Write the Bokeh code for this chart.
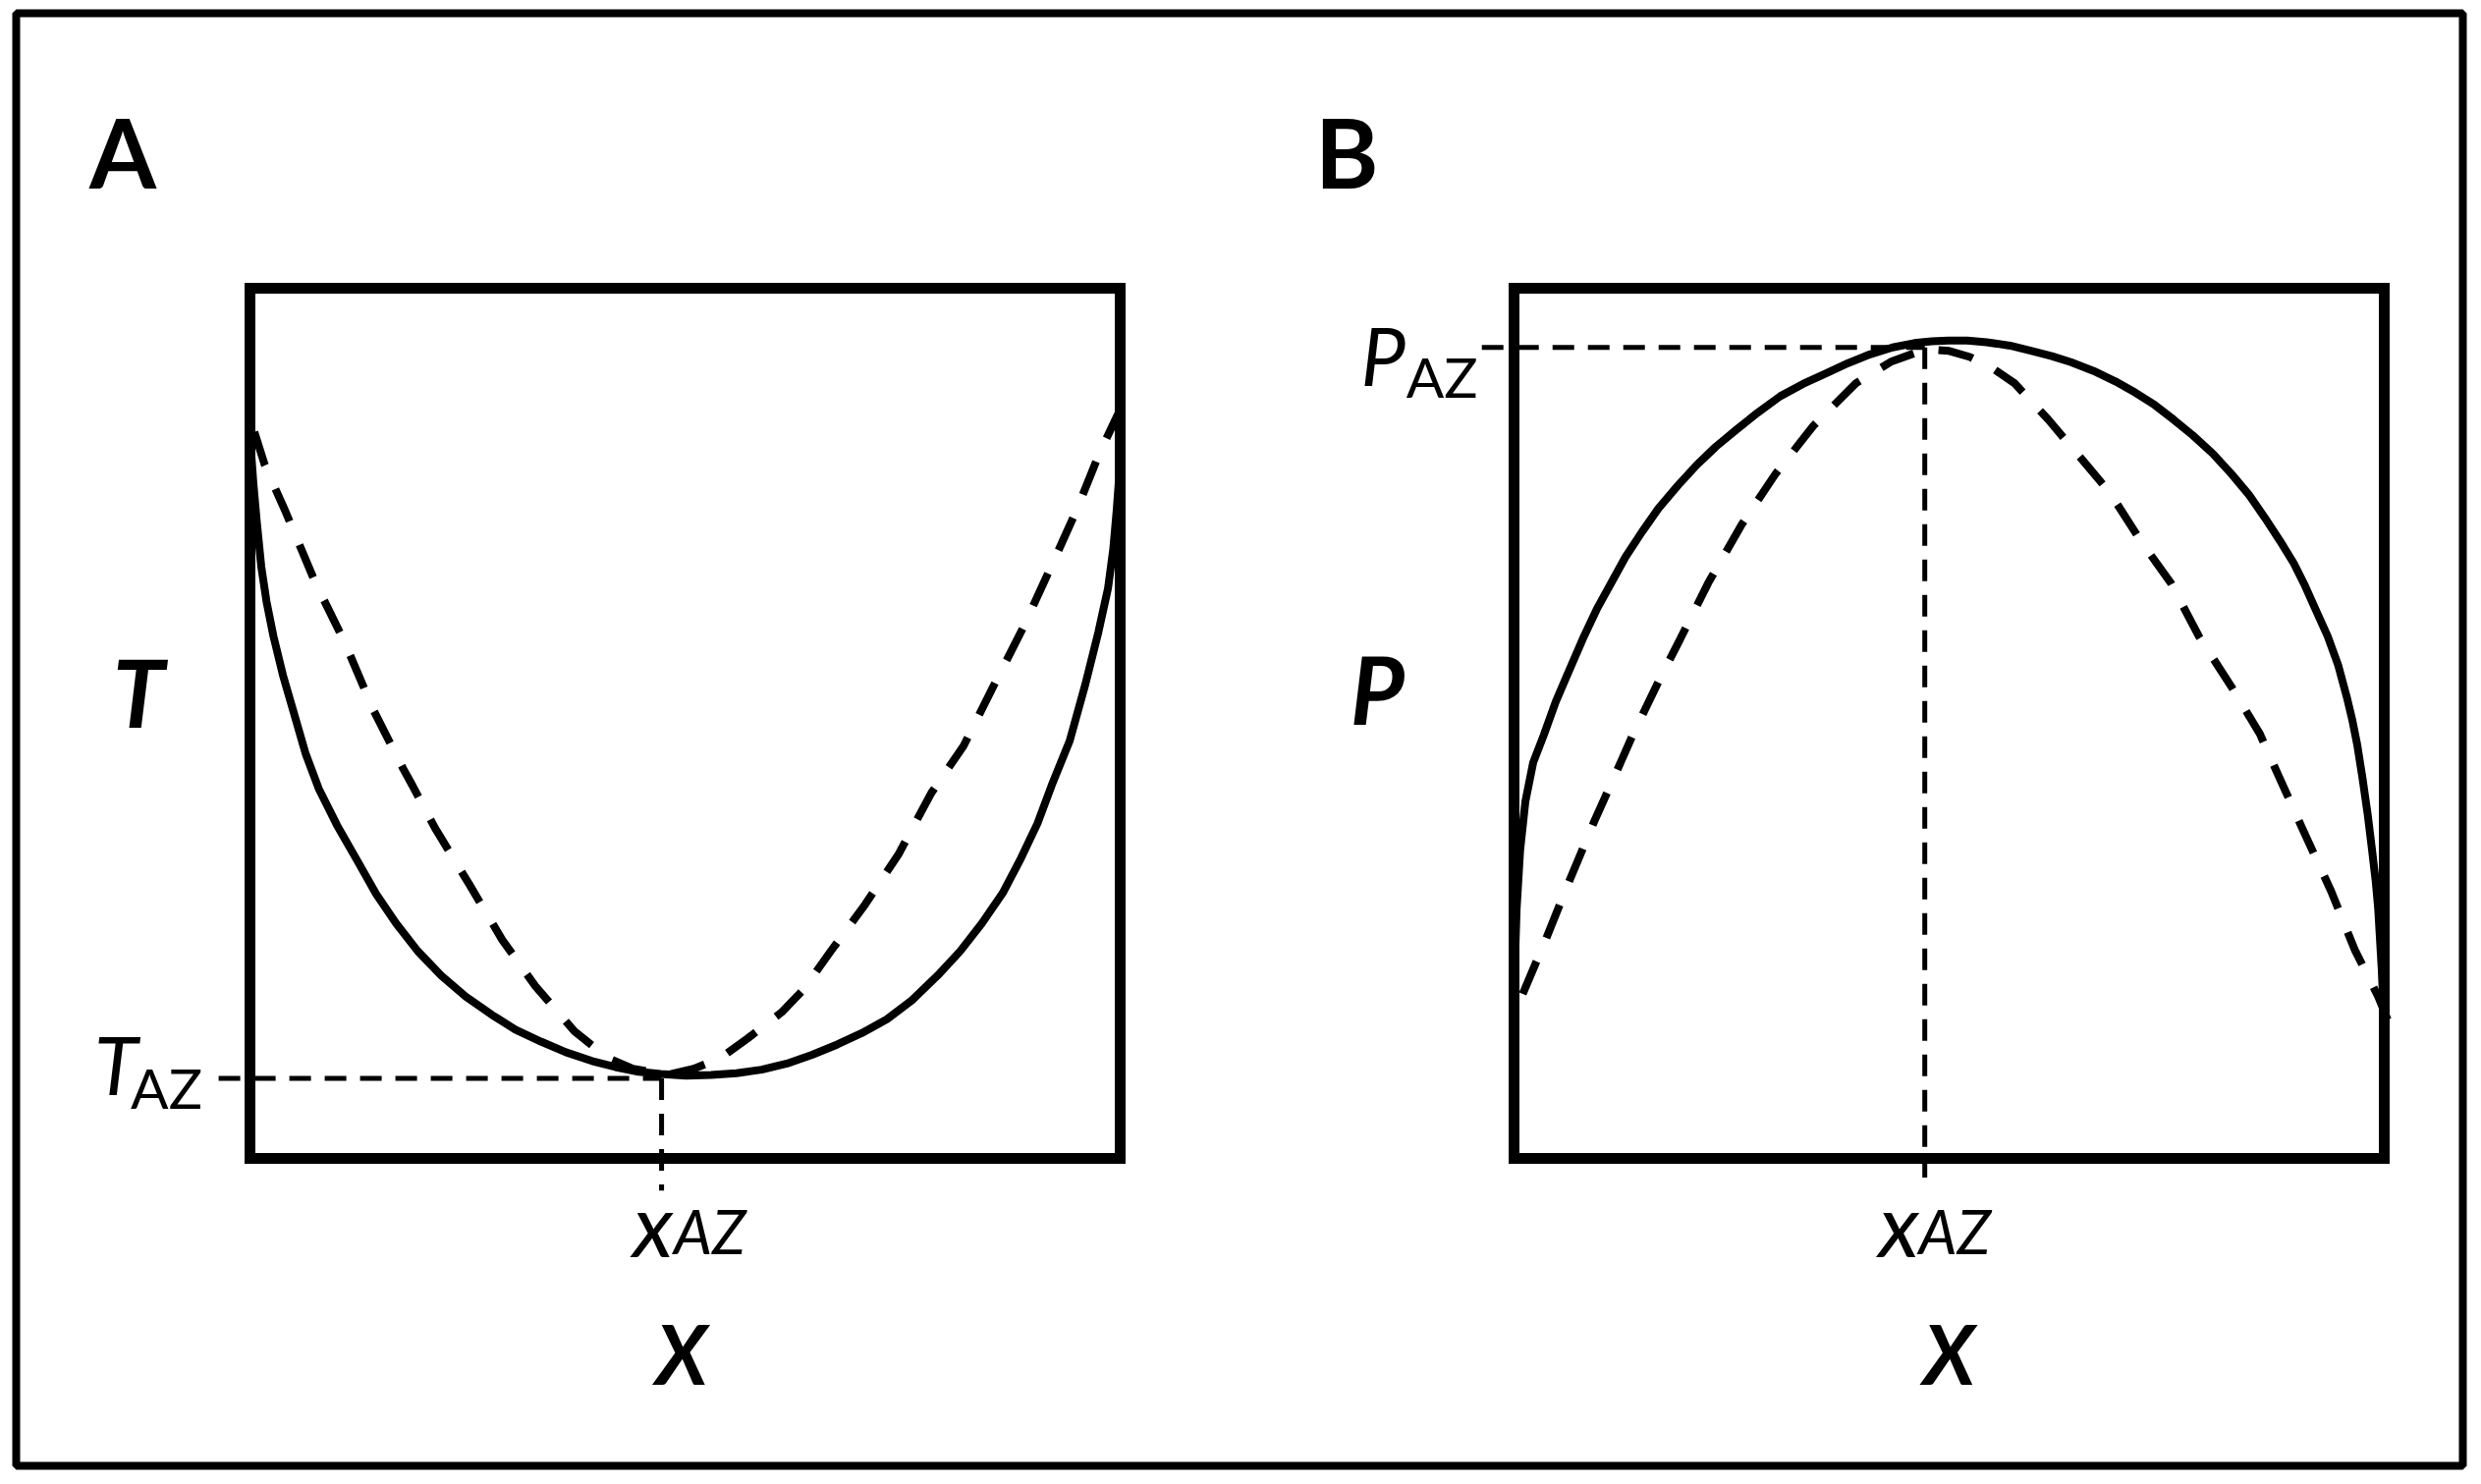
from bokeh.plotting import figure
from bokeh.models import Range1d, Label
from bokeh.embed import file_html
from bokeh.resources import INLINE

# ---------------- data (normalised composition x, normalised T / P) ----------------
# Panel A: T-x diagram with minimum-boiling azeotrope
xA_solid = [0.000, 0.004, 0.008, 0.013, 0.019, 0.027, 0.038, 0.051, 0.064, 0.079, 0.100,
            0.124, 0.145, 0.168, 0.193, 0.220, 0.248, 0.278, 0.305, 0.335, 0.363, 0.393,
            0.420, 0.444, 0.472, 0.501, 0.530, 0.559, 0.588, 0.617, 0.646, 0.675, 0.703,
            0.732, 0.761, 0.790, 0.816, 0.841, 0.865, 0.886, 0.905, 0.921, 0.942, 0.960,
            0.975, 0.986, 0.992, 0.996, 1.000]
TA_solid = [0.830, 0.775, 0.730, 0.680, 0.640, 0.600, 0.555, 0.510, 0.465, 0.425, 0.383,
            0.341, 0.304, 0.270, 0.238, 0.210, 0.186, 0.165, 0.148, 0.134, 0.122, 0.112,
            0.105, 0.100, 0.097, 0.095, 0.096, 0.098, 0.102, 0.109, 0.119, 0.131, 0.144,
            0.160, 0.182, 0.210, 0.238, 0.270, 0.305, 0.345, 0.385, 0.428, 0.480, 0.545,
            0.605, 0.655, 0.700, 0.745, 0.800]
xA_dash = [0.005, 0.017, 0.041, 0.075, 0.108, 0.142, 0.176, 0.187, 0.213, 0.252, 0.290,
           0.328, 0.373, 0.412, 0.440, 0.480, 0.510, 0.540, 0.572, 0.611, 0.636, 0.668,
           0.707, 0.745, 0.783, 0.820, 0.854, 0.888, 0.922, 0.949, 0.976, 1.003]
TA_dash = [0.835, 0.797, 0.743, 0.662, 0.595, 0.515, 0.448, 0.428, 0.379, 0.315, 0.251,
           0.198, 0.146, 0.115, 0.103, 0.096, 0.103, 0.115, 0.138, 0.168, 0.194, 0.239,
           0.292, 0.349, 0.420, 0.474, 0.542, 0.609, 0.683, 0.743, 0.810, 0.867]
x_az_A = 0.473
T_az = 0.092

# Panel B: P-x diagram with maximum-pressure azeotrope
xB_solid = [0.000, 0.003, 0.007, 0.013, 0.022, 0.034, 0.048, 0.063, 0.079, 0.095, 0.112,
            0.128, 0.147, 0.166, 0.188, 0.210, 0.232, 0.255, 0.280, 0.306, 0.332, 0.358,
            0.384, 0.409, 0.435, 0.460, 0.480, 0.499, 0.521, 0.543, 0.570, 0.595, 0.618,
            0.640, 0.666, 0.691, 0.714, 0.736, 0.758, 0.780, 0.803, 0.825, 0.845, 0.863,
            0.880, 0.896, 0.909, 0.921, 0.935, 0.947, 0.957, 0.963, 0.969, 0.975, 0.981,
            0.986, 0.990, 0.993, 0.997, 1.000]
PB_solid = [0.193, 0.287, 0.354, 0.410, 0.455, 0.486, 0.525, 0.560, 0.597, 0.631, 0.662,
            0.691, 0.720, 0.747, 0.773, 0.797, 0.818, 0.837, 0.857, 0.876, 0.890, 0.902,
            0.914, 0.924, 0.932, 0.937, 0.939, 0.940, 0.940, 0.938, 0.934, 0.928, 0.922,
            0.915, 0.905, 0.893, 0.880, 0.866, 0.849, 0.831, 0.810, 0.786, 0.762, 0.736,
            0.710, 0.684, 0.658, 0.631, 0.600, 0.567, 0.530, 0.505, 0.475, 0.437, 0.395,
            0.354, 0.320, 0.287, 0.219, 0.152]
xB_dash = [0.010, 0.037, 0.064, 0.092, 0.122, 0.137, 0.168, 0.191, 0.223, 0.262, 0.300,
           0.344, 0.393, 0.434, 0.473, 0.500, 0.524, 0.550, 0.575, 0.614, 0.652, 0.684,
           0.722, 0.755, 0.787, 0.825, 0.857, 0.878, 0.905, 0.939, 0.966, 0.993, 1.007]
PB_dash = [0.189, 0.253, 0.320, 0.387, 0.454, 0.488, 0.552, 0.597, 0.661, 0.729, 0.786,
           0.842, 0.891, 0.916, 0.930, 0.928, 0.921, 0.908, 0.891, 0.849, 0.804, 0.766,
           0.707, 0.661, 0.600, 0.541, 0.488, 0.441, 0.381, 0.307, 0.240, 0.186, 0.152]
x_az_B = 0.472
P_az = 0.932

# ---------------- layout (pixels) ----------------
BL, BT, BR, BB = 16, 13, 6, 6        # borders around the frame
FW, FH = 2491, 1479                  # frame size
S = 886                              # pixels per unit (box size)
A_LEFT, B_LEFT, BOX_TOP = 238, 1525, 280   # box positions inside frame

p = figure(width=BL + FW + BR, height=BT + FH + BB, output_backend="svg",
           toolbar_location=None, x_axis_type=None, y_axis_type=None,
           x_range=Range1d(-A_LEFT / S, (FW - A_LEFT) / S),
           y_range=Range1d(1 - (FH - BOX_TOP) / S, 1 + BOX_TOP / S))
p.extra_x_ranges = {"B": Range1d(-B_LEFT / S, (FW - B_LEFT) / S)}
p.min_border_left, p.min_border_top, p.min_border_right, p.min_border_bottom = BL, BT, BR, BB
p.outline_line_color = "black"
p.outline_line_width = 8
p.background_fill_color = "white"
p.border_fill_color = "white"

FONT = "Lato"
LW = 8
DASH_CURVE = "36 26"
DASH_REF = "22 14"
REF_W = 5

for rng in ("default", "B"):
    p.quad(left=0, right=1, bottom=0, top=1, fill_color=None, line_color="black",
           line_width=11, line_join="miter", x_range_name=rng)

# Panel A curves
p.line(xA_solid, TA_solid, line_color="black", line_width=LW, line_join="round")
p.line(xA_dash, TA_dash, line_color="black", line_width=LW, line_dash=DASH_CURVE)
p.line([-0.036, x_az_A], [T_az, T_az], line_color="black", line_width=REF_W, line_dash=DASH_REF)
p.line([x_az_A, x_az_A], [T_az, -0.037], line_color="black", line_width=REF_W, line_dash=DASH_REF)

# Panel B curves
p.line(xB_solid, PB_solid, line_color="black", line_width=LW, line_join="round", x_range_name="B")
p.line(xB_dash, PB_dash, line_color="black", line_width=LW, line_dash=DASH_CURVE, x_range_name="B")
p.line([-0.037, x_az_B], [P_az, P_az], line_color="black", line_width=REF_W, line_dash=DASH_REF,
       x_range_name="B")
p.line([x_az_B, x_az_B], [P_az, -0.022], line_color="black", line_width=REF_W, line_dash=DASH_REF,
       x_range_name="B")


def lab(x, y, text, size, style="normal", align="center", rng="default"):
    p.add_layout(Label(x=x, y=y, text=text, text_font=FONT, text_font_size=f"{size}px",
                       text_font_style=style, text_align=align, text_baseline="alphabetic",
                       text_color="black", x_range_name=rng))


# panel letters
lab(-0.146, 1.157, "A", 98, "bold")
lab(-0.192, 1.157, "B", 98, "bold", rng="B")
# axis titles
lab(-0.128, 0.537, "T", 95, "bold italic")
lab(-0.157, 0.540, "P", 95, "bold italic", rng="B")
lab(0.496, -0.223, "X", 84, "bold italic")
lab(0.500, -0.223, "X", 84, "bold italic", rng="B")
# T_AZ / P_AZ
lab(-0.179, 0.108, "T", 81, "italic", "left")
lab(-0.137, 0.082, "AZ", 57, "normal", "left")
lab(-0.176, 0.923, "P", 81, "italic", "left", rng="B")
lab(-0.124, 0.899, "AZ", 57, "normal", "left", rng="B")
# x_AZ
lab(0.440, -0.074, "x", 89, "italic", "left")
lab(0.487, -0.083, "AZ", 62, "italic", "left")
lab(0.419, -0.074, "x", 89, "italic", "left", rng="B")
lab(0.465, -0.083, "AZ", 62, "italic", "left", rng="B")

open("out.html", "w").write(file_html(p, INLINE))
